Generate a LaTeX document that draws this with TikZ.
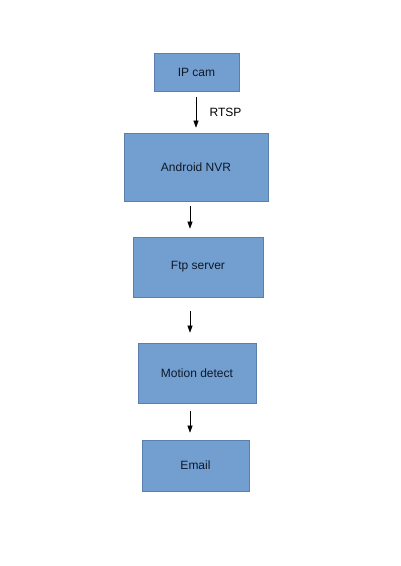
\documentclass[tikz,border=0pt]{standalone}
\usepackage{fontspec}
\setmainfont{Liberation Sans}
\usetikzlibrary{arrows.meta}
\definecolor{boxfill}{HTML}{729FCF}
\definecolor{boxline}{HTML}{5A7FAF}
\definecolor{boxtext}{HTML}{101828}
\begin{document}
\begin{tikzpicture}[x=1pt,y=1pt,
  blk/.style={rectangle, fill=boxfill, draw=boxline, line width=0.6pt, inner sep=0pt, font=\fontsize{12}{14}\selectfont, text=boxtext},
  flow/.style={draw=black, line width=0.6pt, -{Triangle[length=7pt,width=5pt]}}]
\useasboundingbox (0,0) rectangle (400,566);
\fill[white] (0,0) rectangle (400,566);
\node[blk, minimum width=85, minimum height=38] (ip) at (196.5,494) {IP cam};
\node[blk, minimum width=144, minimum height=68] (nvr) at (196,399) {Android NVR};
\node[blk, minimum width=130, minimum height=60] (ftp) at (198,299) {Ftp server};
\node[blk, minimum width=118, minimum height=60] (mot) at (197,193) {Motion detect};
\node[blk, minimum width=107, minimum height=51] (mail) at (195.5,100.5) {Email};
\coordinate (a1) at ([xshift=-0.5pt]ip.south);
\coordinate (a2) at ([xshift=-6pt]nvr.south);
\coordinate (a3) at ([xshift=-8pt]ftp.south);
\coordinate (a4) at ([xshift=-7pt]mot.south);
\draw[flow, shorten <=6pt, shorten >=5pt] (a1) -- (a1 |- nvr.north) node[midway, right=10pt, font=\fontsize{12}{14}\selectfont] (rtsp) {RTSP};
\draw[flow, shorten <=5pt, shorten >=8pt] (a2) -- (a2 |- ftp.north);
\draw[flow, shorten <=14pt, shorten >=10pt] (a3) -- (a3 |- mot.north);
\draw[flow, shorten <=8pt, shorten >=7pt] (a4) -- (a4 |- mail.north);
\end{tikzpicture}
\end{document}
